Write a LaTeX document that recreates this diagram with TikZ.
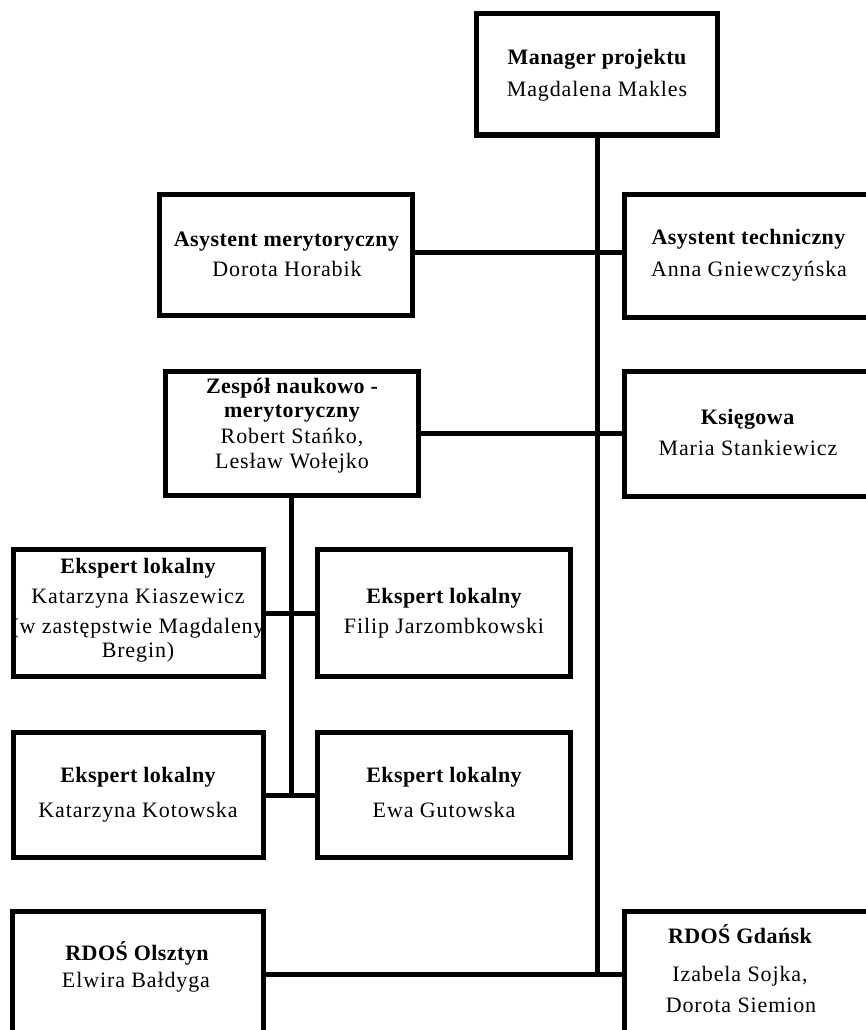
\documentclass[tikz,border=0pt]{standalone}
\usepackage{fontspec}
\setmainfont{Liberation Serif}
\newfontfamily\namefont[LetterSpace=4]{Liberation Serif}
\newfontfamily\titlefont[LetterSpace=2]{Liberation Serif}
\tikzset{
  orgbox/.style={draw, line width=5pt, inner sep=0pt, outer sep=0pt},
  conn/.style={line width=5pt},
  ttl/.style={anchor=base, inner sep=0pt, font=\titlefont\bfseries\fontsize{22}{26}\selectfont},
  nm/.style={anchor=base, inner sep=0pt, font=\namefont\fontsize{22}{26}\selectfont},
}
\begin{document}
\begin{tikzpicture}[x=1pt, y=-1pt]
\useasboundingbox (0,0) rectangle (866,1030);
\clip (0,0) rectangle (866,1030);
\fill[white] (0,0) rectangle (866,1030);

% boxes
\node[orgbox, minimum width=241pt, minimum height=121.5pt] (mgr) at (597,74.25) {};
\node[orgbox, minimum width=253pt, minimum height=121pt] (asm) at (286,255) {};
\node[orgbox, minimum width=245.5pt, minimum height=123pt] (ast) at (747.25,256) {};
\node[orgbox, minimum width=252.5pt, minimum height=124pt] (zes) at (291.75,433.5) {};
\node[orgbox, minimum width=245.5pt, minimum height=125pt] (ks) at (747.25,434) {};
\node[orgbox, minimum width=250pt, minimum height=127pt] (kia) at (138.5,613) {};
\node[orgbox, minimum width=253pt, minimum height=127pt] (fil) at (444,613) {};
\node[orgbox, minimum width=250pt, minimum height=125pt] (kot) at (138.5,795) {};
\node[orgbox, minimum width=253pt, minimum height=125pt] (ewa) at (444,795) {};
\node[orgbox, minimum width=251pt, minimum height=126.5pt] (ol) at (138,974.75) {};
\node[orgbox, minimum width=245.5pt, minimum height=126.5pt] (gd) at (747.25,974.75) {};

% connectors
\coordinate (jA) at (597,252.5);
\draw[conn] (mgr.south) -- (mgr.south |- ol.east);
\draw[conn] (asm.east |- jA) -- (ast.west |- jA);
\draw[conn] (zes.east) -- (ks.west |- zes.east);
\draw[conn] (zes.south) -- (zes.south |- kot.east);
\draw[conn] (kia.east) -- (fil.west);
\draw[conn] (kot.east) -- (ewa.west);
\draw[conn] (ol.east) -- (gd.west);

% texts
\node[ttl] (t1) at (597,65) {Manager projektu};
\node[nm]  (n1) at (597,96.5) {Magdalena Makles};

\node[ttl] (t2) at (286.5,246) {Asystent merytoryczny};
\node[nm]  (n2) at (287,276.5) {Dorota Horabik};

\node[ttl] (t3) at (748.5,244) {Asystent techniczny};
\node[nm]  (n3) at (749,276) {Anna Gniewczyńska};

\node[ttl] (t4a) at (292,393) {Zespół naukowo -};
\node[ttl] (t4b) at (292,417) {merytoryczny};
\node[nm]  (n4a) at (292,443) {Robert Stańko,};
\node[nm]  (n4b) at (292,468) {Lesław Wołejko};

\node[ttl] (t5) at (747.5,424) {Księgowa};
\node[nm]  (n5) at (748,455) {Maria Stankiewicz};

\node[ttl] (t6) at (138,573) {Ekspert lokalny};
\node[nm]  (n6a) at (138,603) {Katarzyna Kiaszewicz};
\node[nm]  (n6b) at (138,633) {(w zastępstwie Magdaleny};
\node[nm]  (n6c) at (138,657.5) {Bregin)};

\node[ttl] (t7) at (444,603) {Ekspert lokalny};
\node[nm]  (n7) at (444,633) {Filip Jarzombkowski};

\node[ttl] (t8) at (138,782) {Ekspert lokalny};
\node[nm]  (n8) at (138,817) {Katarzyna Kotowska};

\node[ttl] (t9) at (444,782) {Ekspert lokalny};
\node[nm]  (n9) at (444,817) {Ewa Gutowska};

\node[ttl] (t10) at (137,960) {RDOŚ Olsztyn};
\node[nm]  (n10) at (136,987) {Elwira Bałdyga};

\node[ttl] (t11) at (740,943) {RDOŚ Gdańsk};
\node[nm]  (n11a) at (740,981) {Izabela Sojka,};
\node[nm]  (n11b) at (741,1012) {Dorota Siemion};
\end{tikzpicture}
\end{document}
